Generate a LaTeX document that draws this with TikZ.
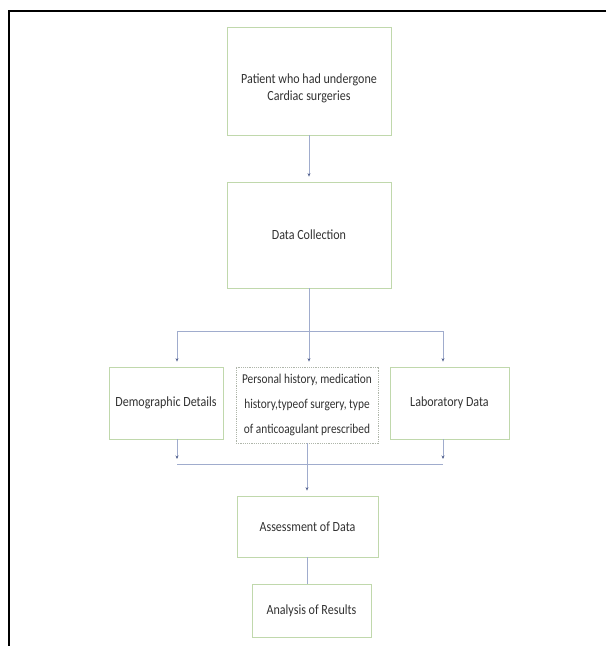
\documentclass[tikz,border=0pt]{standalone}
\usepackage{fontspec}
\usetikzlibrary{arrows.meta}
\newfontfamily\boxfont[FakeStretch=0.86]{Carlito}
\newfontfamily\midfont[FakeStretch=0.84]{Carlito}
\definecolor{boxgreen}{RGB}{192,216,172}
\definecolor{boxgrey}{RGB}{175,182,170}
\definecolor{connc}{RGB}{160,172,205}
\definecolor{tipc}{RGB}{85,100,145}
\definecolor{txtc}{RGB}{50,50,50}
\tikzset{
  box/.style={draw=boxgreen, line width=0.8pt, fill=white, inner sep=0pt,
    text=txtc, font=\boxfont\fontsize{14}{17}\selectfont, align=center},
  midbox/.style={box, draw=boxgrey, dash pattern=on 1.2pt off 1pt,
    font=\midfont\fontsize{13.5}{25}\selectfont},
  label text/.style={text=txtc, font=\boxfont\fontsize{14}{17}\selectfont, align=center, inner sep=0pt},
  conn/.style={draw=connc, line width=0.6pt},
  arr/.style={conn, -{Stealth[length=3.5pt,width=3pt,color=tipc]}, shorten >=5pt}
}
\begin{document}
\begin{tikzpicture}[x=1pt,y=-1pt]
\useasboundingbox (0,0) rectangle (606,646);
% frame
\coordinate (ftr) at (606,11);
\coordinate (ftl) at (8.7,11);
\coordinate (fbl) at (8.7,646);
\draw[line width=2pt] (ftr) -- (ftl) -- (fbl);

% boxes
\node[box, minimum width=164pt, minimum height=108pt] (p1) at (309,81) {};
\node[label text] (p1t) at (309,88) {Patient who had undergone\\Cardiac surgeries};
\node[box, minimum width=164pt, minimum height=106pt] (dc) at (309,235) {Data Collection};
\node[box, minimum width=114pt, minimum height=72pt] (dem) at (166,403) {Demographic Details};
\node[midbox, minimum width=142pt, minimum height=76pt] (mid) at (307,405)
  {Personal history, medication\\history,typeof surgery, type\\of anticoagulant prescribed};
\node[box, minimum width=119pt, minimum height=72pt] (lab) at (449.5,403) {Laboratory Data};
\node[box, minimum width=141pt, minimum height=61pt] (ass) at (307.5,526.5) {Assessment of Data};
\node[box, minimum width=119pt, minimum height=53pt] (ana) at (311.5,610.5) {Analysis of Results};

% connectors
\draw[arr] (p1.south) -- (dc.north);
\coordinate (j1) at (309,331);
\coordinate (jl) at (177,331);
\coordinate (jr) at (443,331);
\draw[conn] (dc.south) -- (j1);
\draw[conn] (jl) -- (jr);
\draw[arr] (jl) -- (jl |- dem.north);
\draw[arr] (j1) -- (j1 |- mid.north);
\draw[arr] (jr) -- (jr |- lab.north);

\coordinate (kl) at (177,464);
\coordinate (kr) at (443,464);
\draw[arr] (kl |- dem.south) -- (kl);
\draw[arr] (kr |- lab.south) -- (kr);
\draw[conn] (kl) -- (kr);
\draw[arr] (mid.south) -- (mid.south |- ass.north);
\draw[conn] (ass.south) -- (ass.south |- ana.north);
\end{tikzpicture}
\end{document}
